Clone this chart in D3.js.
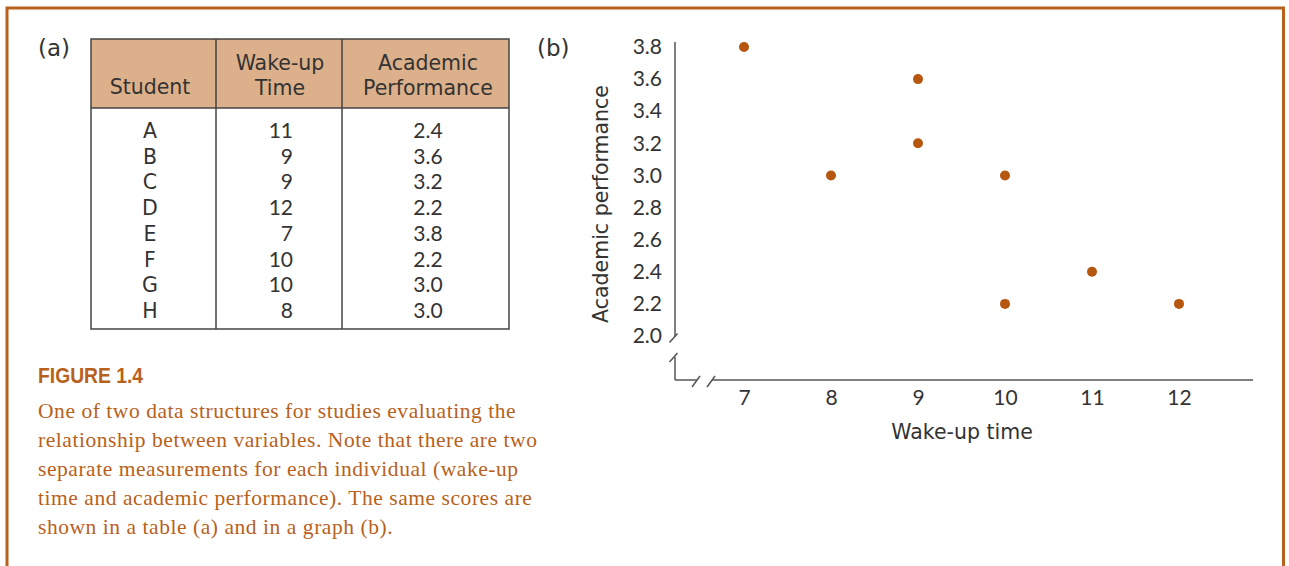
<!DOCTYPE html>
<html>
<head>
<meta charset="utf-8">
<script src="https://cdn.jsdelivr.net/npm/d3@7"></script>
<style>
  html, body { margin: 0; padding: 0; background: #fff; }
  svg { display: block; }
</style>
</head>
<body>
<svg id="chart" width="1289" height="566"></svg>
<script>
// ---- data ----
const students = ["A", "B", "C", "D", "E", "F", "G", "H"];
const wakeTimes = [11, 9, 9, 12, 7, 10, 10, 8];
const performance = [2.4, 3.6, 3.2, 2.2, 3.8, 2.2, 3.0, 3.0];
const xTicks = [7, 8, 9, 10, 11, 12];
const yTicks = [2.0, 2.2, 2.4, 2.6, 2.8, 3.0, 3.2, 3.4, 3.6, 3.8];
const headers = [["Student"], ["Wake-up", "Time"], ["Academic", "Performance"]];
const captionLines = [
  "One of two data structures for studies evaluating the",
  "relationship between variables. Note that there are two",
  "separate measurements for each individual (wake-up",
  "time and academic performance). The same scores are",
  "shown in a table (a) and in a graph (b)."
];

const orange = "#b8611c";
const textCol = "#333";
const wordFont = "'DejaVu Sans', sans-serif";
const numFont = "'Lato', 'DejaVu Sans', sans-serif";
const svg = d3.select("#chart");

// frame
svg.append("path")
  .attr("d", "M7,570 V8 H1283.5 V570")
  .attr("fill", "none").attr("stroke", orange).attr("stroke-width", 3);

// ---- (a) table ----
svg.append("text").attr("x", 38).attr("y", 56).text("(a)")
  .attr("font-family", wordFont).attr("font-size", 23).attr("fill", textCol);

const colEdges = [91, 216, 342, 509];
const tableTop = 39, headBottom = 108, tableBottom = 329;
const rowY = d3.scaleLinear().domain([0, students.length - 1]).range([131, 311]);

svg.append("rect").attr("x", colEdges[0]).attr("y", tableTop)
  .attr("width", colEdges[3] - colEdges[0]).attr("height", headBottom - tableTop)
  .attr("fill", "#dcb08a");
svg.append("rect").attr("x", colEdges[0]).attr("y", tableTop)
  .attr("width", colEdges[3] - colEdges[0]).attr("height", tableBottom - tableTop)
  .attr("fill", "none").attr("stroke", "#444").attr("stroke-width", 1.5);
svg.append("line").attr("x1", colEdges[0]).attr("x2", colEdges[3])
  .attr("y1", headBottom).attr("y2", headBottom).attr("stroke", "#444").attr("stroke-width", 1.5);
[colEdges[1], colEdges[2]].forEach(x => {
  svg.append("line").attr("x1", x).attr("x2", x).attr("y1", tableTop).attr("y2", tableBottom)
    .attr("stroke", "#444").attr("stroke-width", 1.5);
});

const headCenters = [150, 280, 428];
headers.forEach((lines, i) => {
  const baseY = lines.length === 1 ? 94 : 70;
  lines.forEach((ln, j) => {
    svg.append("text").attr("x", headCenters[i]).attr("y", baseY + j * 25)
      .attr("text-anchor", "middle").attr("font-family", wordFont).attr("font-size", 20.5)
      .attr("fill", textCol).text(ln);
  });
});

const tbl = svg.append("g").attr("font-size", 21).attr("fill", textCol);
tbl.selectAll(".s").data(students).join("text")
  .attr("font-family", wordFont).attr("font-size", 20.5)
  .attr("x", 150).attr("y", (d, i) => rowY(i) + 7).attr("text-anchor", "middle").text(d => d);
tbl.selectAll(".w").data(wakeTimes).join("text")
  .attr("font-family", numFont)
  .attr("x", 293).attr("y", (d, i) => rowY(i) + 7).attr("text-anchor", "end").text(d => d);
tbl.selectAll(".p").data(performance).join("text")
  .attr("font-family", numFont)
  .attr("x", 428).attr("y", (d, i) => rowY(i) + 7).attr("text-anchor", "middle").text(d => d.toFixed(1));

// ---- caption ----
svg.append("text").attr("x", 38).attr("y", 383).text("FIGURE 1.4")
  .attr("font-family", "'Liberation Sans', sans-serif")
  .attr("font-weight", "bold").attr("font-size", 22.5)
  .attr("textLength", 105).attr("lengthAdjust", "spacingAndGlyphs")
  .attr("fill", orange);
svg.append("g").selectAll("text").data(captionLines).join("text")
  .attr("x", 38).attr("y", (d, i) => 418 + i * 29)
  .attr("font-family", "'Liberation Serif', 'Times New Roman', serif").attr("font-size", 21.5)
  .attr("letter-spacing", 0.55)
  .attr("fill", orange).text(d => d);

// ---- (b) scatter ----
svg.append("text").attr("x", 537).attr("y", 56).text("(b)")
  .attr("font-family", wordFont).attr("font-size", 23).attr("fill", textCol);

const x = d3.scaleLinear().domain([7, 12]).range([744, 1179]);
const y = d3.scaleLinear().domain([2.0, 3.8]).range([336, 47]);
const axisX0 = 675, axisY0 = 380, axisXEnd = 1253;
const axisCol = "#555";

// y axis labels
const yAx = svg.append("g").attr("transform", `translate(${axisX0},0)`)
  .call(d3.axisLeft(y).tickValues(yTicks).tickFormat(d3.format(".1f")).tickSize(0).tickPadding(13));
yAx.select(".domain").remove();
yAx.selectAll("text").attr("font-family", numFont).attr("font-size", 21).attr("fill", textCol);

// axis lines with breaks
const lines = [
  [axisX0, 42, axisX0, 337],
  [axisX0, 357, axisX0, axisY0],
  [axisX0, axisY0, 697, axisY0],
  [712, axisY0, axisXEnd, axisY0],
  [669.5, 342.5, 677.5, 333.5],
  [669.5, 362, 677.5, 353],
  [692, 387, 700, 376],
  [707, 387, 715, 376]
];
svg.append("g").selectAll("line").data(lines).join("line")
  .attr("x1", d => d[0]).attr("y1", d => d[1]).attr("x2", d => d[2]).attr("y2", d => d[3])
  .attr("stroke", axisCol).attr("stroke-width", 1.5);

// x axis labels
const xAx = svg.append("g").attr("transform", `translate(0,${axisY0})`)
  .call(d3.axisBottom(x).tickValues(xTicks).tickFormat(d3.format("d")).tickSize(0).tickPadding(10));
xAx.select(".domain").remove();
xAx.selectAll("text").attr("font-family", numFont).attr("font-size", 21).attr("fill", textCol);

// axis titles
svg.append("text").attr("x", 962).attr("y", 439).attr("text-anchor", "middle")
  .attr("font-family", wordFont).attr("font-size", 20.5).attr("fill", textCol).text("Wake-up time");
svg.append("text").attr("transform", "translate(608,204) rotate(-90)").attr("text-anchor", "middle")
  .attr("font-family", wordFont).attr("font-size", 20.5).attr("fill", textCol).text("Academic performance");

// points
svg.append("g").selectAll("circle").data(wakeTimes).join("circle")
  .attr("cx", d => x(d)).attr("cy", (d, i) => y(performance[i]))
  .attr("r", 5).attr("fill", "#b5570f");
</script>
</body>
</html>
